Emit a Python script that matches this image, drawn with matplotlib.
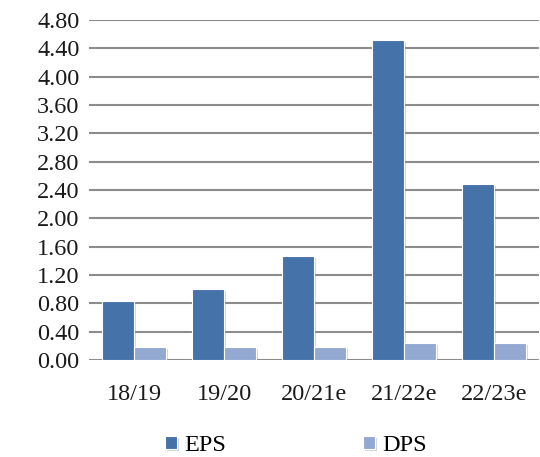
import matplotlib.pyplot as plt
import matplotlib.patheffects as pe
import numpy as np

years = ['18/19', '19/20', '20/21e', '21/22e', '22/23e']
eps = [0.83, 1.00, 1.47, 4.52, 2.49]
dps = [0.18, 0.18, 0.18, 0.24, 0.24]
yticks = [0.0, 0.4, 0.8, 1.2, 1.6, 2.0, 2.4, 2.8, 3.2, 3.6, 4.0, 4.4, 4.8]

plt.rcParams['font.family'] = ['Liberation Serif', 'DejaVu Serif']

fig = plt.figure(figsize=(5.4, 4.57), dpi=100)
ax = fig.add_axes([0.165, 0.2123, 0.833, 0.7439])

x = np.arange(len(years))
w = 0.356
shadow = [pe.SimplePatchShadow(offset=(1.5, -1.5), shadow_rgbFace='#888888', alpha=0.35), pe.Normal()]

b1 = ax.bar(x - w / 2, eps, w, color='#4572a8', edgecolor='white', linewidth=0.8,
            label='EPS', zorder=3)
b2 = ax.bar(x + w / 2, dps, w, color='#93a9d2', edgecolor='white', linewidth=0.8,
            label='DPS', zorder=3)
for bar in list(b1) + list(b2):
    bar.set_path_effects(shadow)

ax.set_xlim(-0.5, len(years) - 0.5)
ax.set_ylim(0, 4.8)
ax.set_yticks(yticks)
ax.set_yticklabels([f'{v:.2f}' for v in yticks])
ax.set_xticks(x)
ax.set_xticklabels(years)
ax.tick_params(axis='both', length=0, labelsize=17.5, colors='#1a1a1a')
ax.tick_params(axis='y', pad=7)
ax.tick_params(axis='x', pad=17)
ax.yaxis.grid(True, color='#8c8c8c', linewidth=1.5, zorder=0)
ax.set_axisbelow(True)
for s in ax.spines.values():
    s.set_visible(False)

fig.legend(handles=[b1, b2], loc='center', bbox_to_anchor=(0.548, 0.025), ncol=2,
           frameon=False, fontsize=17.5, handlelength=0.5, handleheight=0.5,
           handletextpad=0.3, columnspacing=5.6)

fig.savefig('out.png', dpi=100)
